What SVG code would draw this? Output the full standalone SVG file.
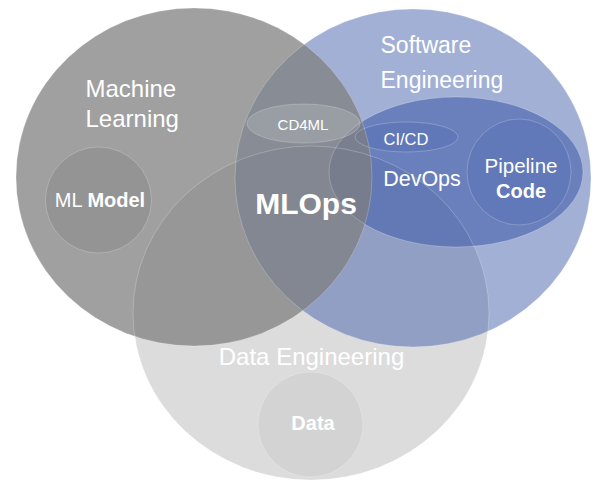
<svg xmlns="http://www.w3.org/2000/svg" width="593" height="482" viewBox="0 0 593 482">
  <style>
    text { font-family: "Liberation Sans", Arial, sans-serif; fill: #ffffff; }
    .blue { fill: #4561ab; }
    .b { font-weight: bold; }
    .mid { text-anchor: middle; }
    .ol { fill: none; stroke: #ffffff; stroke-opacity: 0.28; stroke-width: 0.8; }
  </style>
  <rect width="593" height="482" fill="#ffffff"/>

  <g id="data-engineering">
    <ellipse cx="311" cy="313" rx="178" ry="167" fill="#dcdcdc"/>
    <text x="311.5" y="365" font-size="24" class="mid">Data Engineering</text>
  </g>

  <g id="software-engineering">
    <ellipse cx="413" cy="178" rx="178" ry="169" class="blue" fill-opacity="0.5"/>
    <text x="380.5" y="53" font-size="23">Software</text>
    <text x="380.5" y="88" font-size="23">Engineering</text>
  </g>

  <g id="devops">
    <ellipse cx="456" cy="172" rx="127" ry="75" class="blue" fill-opacity="0.6"/>
    <text x="422" y="186" font-size="21.5" class="mid">DevOps</text>
  </g>

  <g id="cicd">
    <ellipse cx="406.5" cy="137" rx="51.5" ry="15" class="blue" fill-opacity="0.25"/>
    <text x="406" y="145" font-size="16.5" class="mid">CI/CD</text>
  </g>

  <g id="pipeline-code">
    <ellipse cx="519" cy="172" rx="52" ry="53" class="blue" fill-opacity="0.22"/>
    <text x="521" y="173" font-size="20.5" class="mid">Pipeline</text>
    <text x="521" y="197.5" font-size="20" class="mid b">Code</text>
  </g>

  <g id="machine-learning">
    <ellipse cx="194" cy="177" rx="178" ry="169" fill="#7f7f7f" fill-opacity="0.74"/>
    <text x="85.5" y="97" font-size="24">Machine</text>
    <text x="85.5" y="127" font-size="24">Learning</text>
  </g>

  <g id="cd4ml">
    <ellipse cx="303.5" cy="123.5" rx="56.5" ry="19.5" fill="#ffffff" fill-opacity="0.15"/>
    <text x="303" y="130" font-size="15" class="mid">CD4ML</text>
  </g>

  <g id="ml-model">
    <ellipse cx="98.5" cy="200" rx="53" ry="53" fill="#000000" fill-opacity="0.07"/>
    <text x="100" y="207" font-size="20" class="mid">ML <tspan class="b">Model</tspan></text>
  </g>

  <g id="data">
    <ellipse cx="310.5" cy="424.5" rx="52.5" ry="52.5" fill="#000000" fill-opacity="0.04"/>
    <text x="313" y="430" font-size="20" class="mid b">Data</text>
  </g>

  <g id="outlines">
    <ellipse class="ol" cx="311" cy="313" rx="178" ry="167"/>
    <ellipse class="ol" cx="413" cy="178" rx="178" ry="169"/>
    <ellipse class="ol" cx="194" cy="177" rx="178" ry="169"/>
    <ellipse class="ol" cx="456" cy="172" rx="127" ry="75"/>
    <ellipse class="ol" cx="406.5" cy="137" rx="51.5" ry="15"/>
    <ellipse class="ol" cx="519" cy="172" rx="52" ry="53"/>
    <ellipse class="ol" cx="303.5" cy="123.5" rx="56.5" ry="19.5"/>
    <ellipse class="ol" cx="98.5" cy="200" rx="53" ry="53"/>
    <ellipse class="ol" cx="310.5" cy="424.5" rx="52.5" ry="52.5"/>
  </g>

  <g id="mlops">
    <text x="306" y="214" font-size="30" class="mid b">MLOps</text>
  </g>
</svg>
